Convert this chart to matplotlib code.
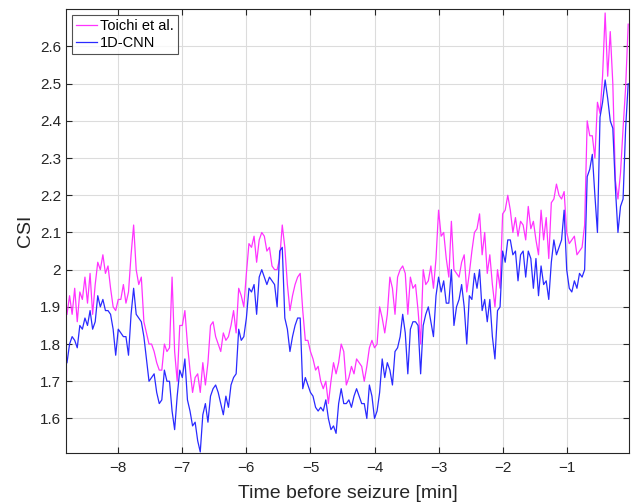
import numpy as np
import matplotlib
matplotlib.use("Agg")
import matplotlib.pyplot as plt
from matplotlib.ticker import FormatStrFormatter

plt.rcParams['font.family'] = ['Liberation Sans', 'DejaVu Sans']

# time axis, one sample every 0.04 min
t = np.round(np.arange(-8.80, -0.02, 0.04), 2)

toichi = [
    1.88, 1.93, 1.88, 1.95, 1.86, 1.94, 1.92, 1.98, 1.91, 1.99,
    1.88, 1.96, 2.02, 2.00, 2.04, 1.99, 2.01, 1.95, 1.90, 1.89,
    1.92, 1.92, 1.96, 1.91, 1.94, 2.04, 2.12, 2.00, 1.96, 1.98,
    1.86, 1.83, 1.80, 1.80, 1.78, 1.75, 1.73,
    1.73, 1.80, 1.78, 1.79, 1.98, 1.78, 1.70, 1.85, 1.85, 1.89,
    1.80, 1.73, 1.67, 1.71, 1.72, 1.67, 1.75, 1.69, 1.75, 1.85,
    1.86, 1.82, 1.80, 1.78, 1.83, 1.81, 1.82, 1.85, 1.89, 1.83,
    1.95, 1.93, 1.90, 1.99, 2.07, 2.06,
    2.09, 2.02, 2.08, 2.10, 2.09, 2.05, 2.06, 2.01, 2.00, 2.00,
    2.03, 2.12, 2.06, 1.96, 1.89, 1.93, 1.96, 1.98, 1.99, 1.89,
    1.81, 1.81, 1.78, 1.76, 1.73, 1.74, 1.70, 1.68, 1.70, 1.64,
    1.70, 1.75, 1.72, 1.75, 1.80, 1.78, 1.69,
    1.71, 1.74, 1.72, 1.76, 1.75, 1.74, 1.70, 1.74, 1.79, 1.81,
    1.79, 1.80, 1.90, 1.87, 1.83, 1.88, 1.98, 1.95, 1.88, 1.98,
    2.00, 2.01, 1.99, 1.88, 1.98, 1.95, 1.96, 1.89, 1.80, 2.00,
    1.96, 1.97, 2.01, 1.95, 2.03, 2.16, 2.09,
    2.10, 2.03, 1.98, 2.13, 2.00, 1.99, 1.98, 2.02, 2.04, 1.94,
    1.99, 2.05, 2.10, 2.11, 2.15, 2.04, 2.10, 1.99, 2.04, 1.96,
    1.90, 2.00, 1.95, 2.15, 2.16, 2.20, 2.16, 2.10, 2.14, 2.09,
    2.13, 2.12, 2.08, 2.17, 2.11, 2.13, 2.08,
    2.04, 2.16, 2.08, 2.14, 2.03, 2.18, 2.19, 2.23, 2.20, 2.19,
    2.21, 2.10, 2.07, 2.08, 2.09, 2.04, 2.05, 2.06, 2.12, 2.40,
    2.36, 2.36, 2.30, 2.45, 2.42, 2.52, 2.69, 2.52, 2.64, 2.50,
    2.24, 2.19, 2.26, 2.38, 2.49, 2.66,
]

cnn = [
    1.75, 1.80, 1.82, 1.81, 1.79, 1.85, 1.84, 1.87, 1.85, 1.89,
    1.84, 1.86, 1.93, 1.90, 1.92, 1.89, 1.89, 1.88, 1.84, 1.77,
    1.84, 1.83, 1.82, 1.82, 1.77, 1.88, 1.95, 1.88, 1.87, 1.86,
    1.82, 1.76, 1.70, 1.71, 1.72, 1.67, 1.64,
    1.65, 1.73, 1.70, 1.70, 1.62, 1.57, 1.66, 1.73, 1.71, 1.76,
    1.65, 1.62, 1.58, 1.59, 1.54, 1.51, 1.61, 1.64, 1.59, 1.66,
    1.68, 1.69, 1.67, 1.64, 1.61, 1.66, 1.63, 1.69, 1.71, 1.72,
    1.84, 1.81, 1.82, 1.87, 1.95, 1.94,
    1.96, 1.88, 1.98, 2.00, 1.98, 1.96, 1.98, 1.97, 1.96, 1.90,
    2.05, 2.06, 1.87, 1.84, 1.78, 1.82, 1.85, 1.87, 1.87, 1.68,
    1.71, 1.69, 1.67, 1.66, 1.63, 1.62, 1.63, 1.62, 1.65, 1.60,
    1.57, 1.58, 1.56, 1.64, 1.68, 1.64, 1.64,
    1.65, 1.63, 1.66, 1.68, 1.66, 1.64, 1.64, 1.60, 1.69, 1.66,
    1.60, 1.62, 1.67, 1.76, 1.71, 1.75, 1.73, 1.69, 1.78, 1.79,
    1.82, 1.88, 1.83, 1.72, 1.84, 1.86, 1.86, 1.85, 1.72, 1.85,
    1.88, 1.90, 1.86, 1.82, 1.93, 1.98, 1.94,
    1.97, 1.91, 1.91, 2.00, 1.85, 1.90, 1.92, 1.96, 1.90, 1.80,
    1.93, 1.92, 1.99, 1.95, 2.00, 1.89, 1.92, 1.86, 1.92, 1.82,
    1.76, 1.89, 1.90, 2.05, 2.02, 2.08, 2.08, 2.04, 2.05, 1.97,
    2.04, 2.05, 1.98, 2.05, 2.03, 1.95, 2.03,
    1.93, 2.01, 1.96, 1.97, 1.92, 2.02, 2.08, 2.04, 2.06, 2.08,
    2.16, 2.00, 1.95, 1.94, 1.97, 1.95, 1.99, 1.98, 2.00, 2.25,
    2.27, 2.31, 2.20, 2.10, 2.41, 2.45, 2.51, 2.46, 2.40, 2.38,
    2.22, 2.10, 2.17, 2.19, 2.38, 2.50,
]

xticks = [-8, -7, -6, -5, -4, -3, -2, -1]
yticks = [1.6, 1.7, 1.8, 1.9, 2.0, 2.1, 2.2, 2.3, 2.4, 2.5, 2.6]

fig = plt.figure(figsize=(6.32, 5.04), dpi=100)
ax = fig.add_axes([0.1044, 0.1018, 0.8908, 0.8798])

ax.plot(t, toichi, color='#ff33ff', lw=0.9, label='Toichi et al.')
ax.plot(t, cnn, color='#2a2aff', lw=0.9, label='1D-CNN')

ax.set_xlim(-8.816, -0.028)
ax.set_ylim(1.508, 2.70)
ax.set_xticks(xticks)
ax.set_yticks(yticks)
ax.yaxis.set_major_formatter(FormatStrFormatter('%g'))

ax.grid(True, color='#dcdcdc', lw=0.8)
ax.set_axisbelow(True)
ax.tick_params(direction='in', top=True, right=True, length=4,
               color='#262626', labelsize=11, labelcolor='#262626')
ax.tick_params(axis='x', pad=6)
for s in ax.spines.values():
    s.set_color('#262626')
    s.set_linewidth(0.8)

ax.set_xlabel('Time before seizure [min]', fontsize=14, color='#262626', labelpad=7)
ax.set_ylabel('CSI', fontsize=14, color='#262626', labelpad=4)

leg = ax.legend(loc='upper left', fontsize=10.5, frameon=True, fancybox=False,
                handlelength=1.4, handletextpad=0.2, borderpad=0.3,
                labelspacing=0.15, borderaxespad=0.4)
leg.get_frame().set_edgecolor('#262626')
leg.get_frame().set_linewidth(0.8)

fig.savefig('out.png', dpi=100)
